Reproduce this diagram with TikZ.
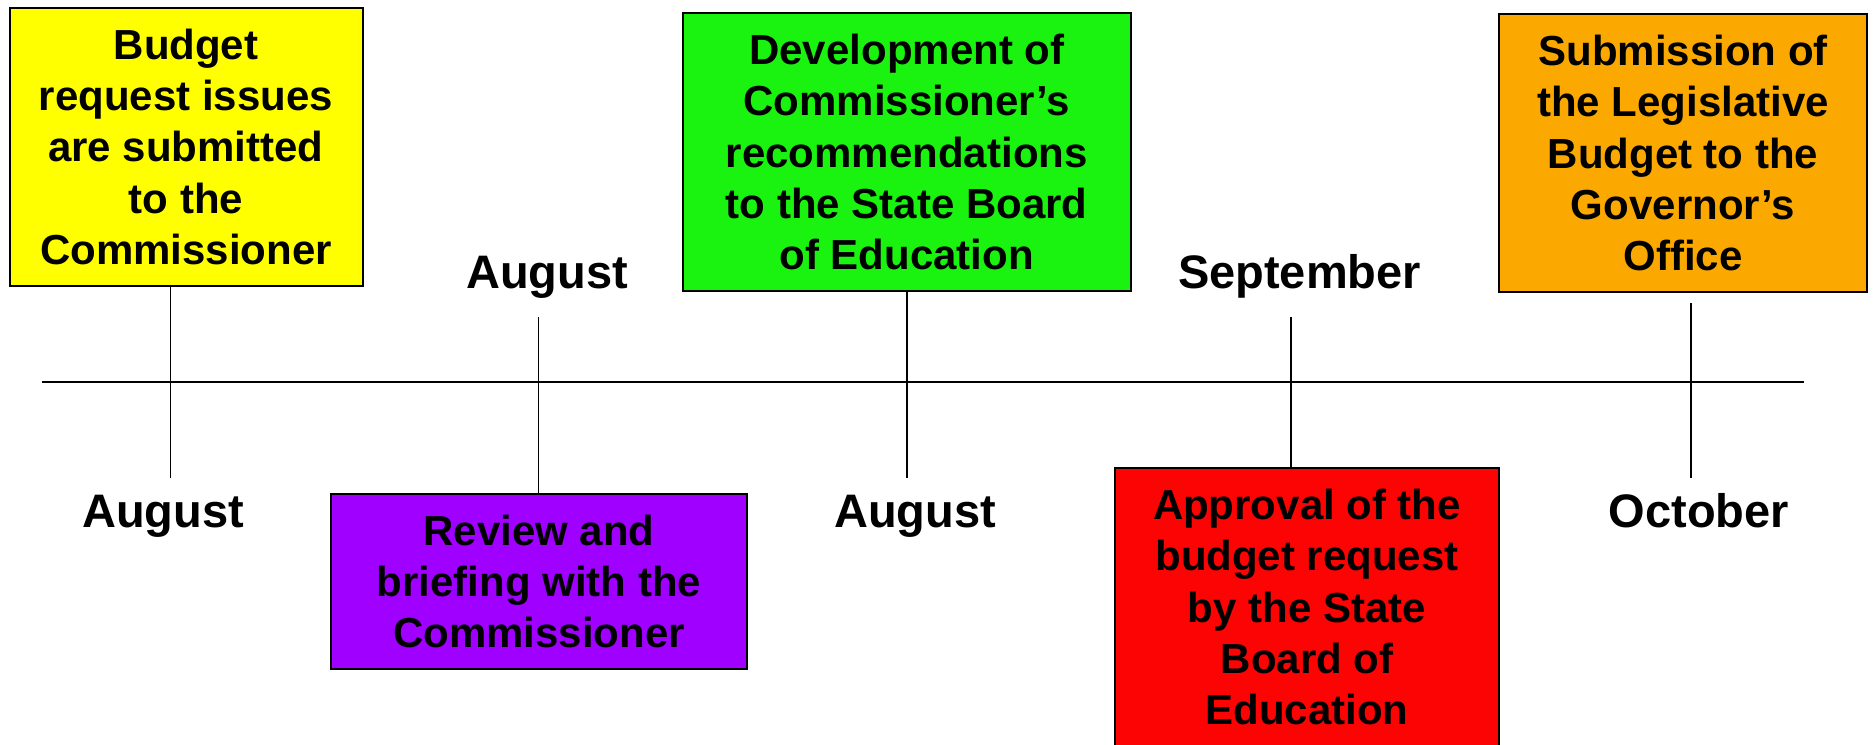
\documentclass[tikz,border=0pt]{standalone}
\usepackage{fontspec}
\setmainfont{Liberation Sans}
\definecolor{boxyellow}{RGB}{255,255,0}
\definecolor{boxgreen}{RGB}{26,243,16}
\definecolor{boxorange}{RGB}{251,168,0}
\definecolor{boxpurple}{RGB}{160,0,255}
\definecolor{boxred}{RGB}{252,4,4}

\begin{document}
\begin{tikzpicture}[x=1pt, y=-1pt,
    box/.style = {draw, line width=2pt, align=center, inner sep=0pt,
        minimum height=278pt, font=\fontsize{42}{51.3}\selectfont\bfseries},
    month/.style = {anchor=base, font=\fontsize{47}{56}\selectfont\bfseries}]

        \useasboundingbox (0,0) rectangle (1873,744);

        \node[box, fill=boxyellow, minimum width=353pt] (issues) at (186,146.7) {Budget\\request issues\\are submitted\\to the\\Commissioner};
        \node[box, fill=boxgreen, minimum width=448pt] (dev) at (906.8,152.2) {Development of\\Commissioner’s\\recommendations\\to the State Board\\of Education};
        \node[box, fill=boxorange, minimum width=368pt] (submit) at (1683,153) {Submission of\\the Legislative\\Budget to the\\Governor’s\\Office};
        \node[box, fill=boxpurple, minimum width=416pt, minimum height=175pt] (review) at (539,581.5) {Review and\\briefing with the\\Commissioner};
        \node[box, fill=boxred, minimum width=384pt] (approval) at (1307,607) {Approval of the\\budget request\\by the State\\Board of\\Education};

        \node[month] (aug1) at (163,527) {August};
        \node[month] (aug2) at (547,288) {August};
        \node[month] (aug3) at (915,527) {August};
        \node[month] (sep) at (1299.5,288) {September};
        \node[month] (oct) at (1699,527) {October};

        % timeline
        \coordinate (tl) at (42,381.7);
        \coordinate (tr) at (1803.5,381.7);
        \draw[line width=2.2pt] (tl) -- (tr);

        \coordinate (e1) at (170.5,478);
        \coordinate (s2) at (538.5,317);
        \coordinate (e3) at (907,478);
        \coordinate (s4) at (1291,317);
        \coordinate (e5) at (1691,478);

        \draw[line width=1.5pt] (issues.south -| e1) -- (e1);
        \draw[line width=1.5pt] (s2) -- (review.north -| s2);
        \draw[line width=1.5pt] (dev.south -| e3) -- (e3);
        \draw[line width=1.5pt] (s4) -- (approval.north -| s4);
        \draw[line width=1.5pt] ([yshift=-10pt]submit.south -| e5) -- (e5);
    \end{tikzpicture}
\end{document}
